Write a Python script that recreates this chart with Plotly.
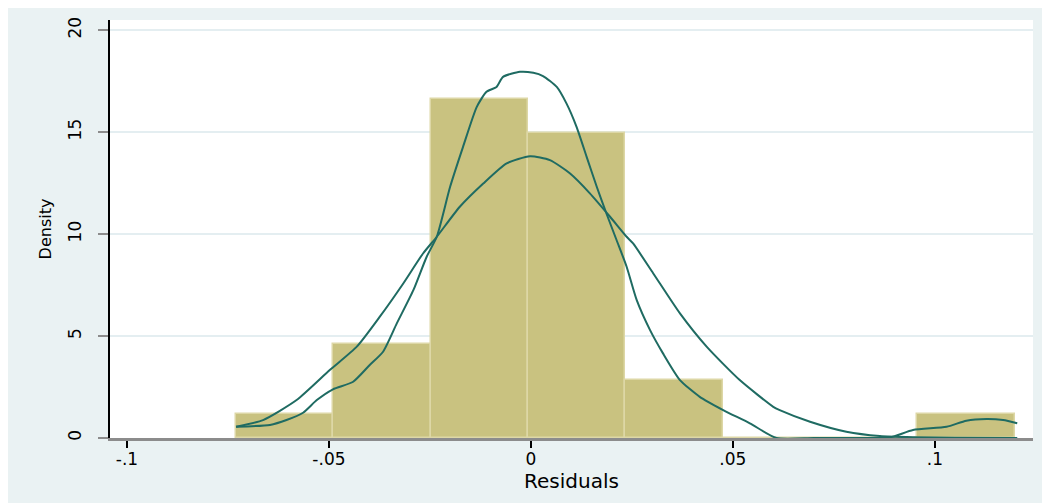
import plotly.graph_objects as go

# ---- data ----
bin_edges = [-0.0730, -0.0489, -0.0248, -0.0007, 0.0234, 0.0475, 0.0716, 0.0957, 0.1198]
bin_density = [1.16, 4.60, 16.65, 14.95, 2.85, 0.0, 0.0, 1.16]

kernel_x = [-0.0730, -0.0646, -0.0605, -0.0564, -0.0530, -0.0490, -0.0440, -0.0399, -0.0366,
            -0.0332, -0.0291, -0.0258, -0.0233, -0.0200, -0.0168, -0.0134, -0.0110, -0.0085,
            -0.0069, -0.0027, 0.0006, 0.0030, 0.0064, 0.0088, 0.0113, 0.0138, 0.0163, 0.0187,
            0.0212, 0.0237, 0.0262, 0.0295, 0.0327, 0.0369, 0.0418, 0.0476, 0.0542, 0.0608,
            0.0700, 0.0800, 0.0889, 0.0946, 0.1029, 0.1078, 0.1128, 0.1169, 0.1204]
kernel_y = [0.55, 0.64, 0.88, 1.24, 1.86, 2.39, 2.76, 3.58, 4.23,
            5.62, 7.25, 8.89, 9.87, 12.32, 14.28, 16.24, 16.98, 17.22,
            17.71, 17.96, 17.91, 17.75, 17.22, 16.41, 15.26, 13.79, 12.32, 11.01,
            9.71, 8.40, 6.76, 5.29, 4.15, 2.84, 2.02, 1.37, 0.72, 0.0,
            0.0, 0.0, 0.03, 0.39, 0.55, 0.85, 0.93, 0.88, 0.72]

normal_x = [-0.0730, -0.0663, -0.0580, -0.0498, -0.0431, -0.0374, -0.0316, -0.0267, -0.0233,
            -0.0176, -0.0118, -0.0060, -0.0002, 0.0047, 0.0097, 0.0146, 0.0196, 0.0237,
            0.0253, 0.0303, 0.0369, 0.0435, 0.0517, 0.0600, 0.0616, 0.0691, 0.0781, 0.0864,
            0.0950, 0.1050, 0.1204]
normal_y = [0.55, 0.88, 1.86, 3.33, 4.48, 5.95, 7.58, 9.05, 9.87,
            11.34, 12.48, 13.47, 13.82, 13.63, 12.97, 12.00, 10.85, 9.87,
            9.54, 8.07, 6.11, 4.48, 2.84, 1.53, 1.37, 0.80, 0.31, 0.10,
            0.04, 0.01, 0.00]

x_tickvals = [-0.1, -0.05, 0, 0.05, 0.1]
x_ticktext = ["-.1", "-.05", "0", ".05", ".1"]
y_tickvals = [0, 5, 10, 15, 20]
y_ticktext = ["0", "5", "10", "15", "20"]

# ---- styles ----
BG = "#eaf2f3"
BAR = "#c9c280"
BAR_EDGE = "#ddd7a6"
LINE = "#1f6b62"
FONT = "DejaVu Sans, Arial, sans-serif"

bin_centers = [(a + b) / 2 for a, b in zip(bin_edges[:-1], bin_edges[1:])]
bin_widths = [b - a for a, b in zip(bin_edges[:-1], bin_edges[1:])]

fig = go.Figure()
fig.add_trace(go.Bar(
    x=bin_centers, y=bin_density, width=bin_widths,
    marker=dict(color=BAR, line=dict(color=BAR_EDGE, width=1.5)),
    showlegend=False, hoverinfo="skip",
))
fig.add_trace(go.Scatter(
    x=kernel_x, y=kernel_y, mode="lines",
    line=dict(color=LINE, width=2, shape="spline", smoothing=0.6),
    showlegend=False,
))
fig.add_trace(go.Scatter(
    x=normal_x, y=normal_y, mode="lines",
    line=dict(color=LINE, width=2, shape="spline", smoothing=0.6),
    showlegend=False,
))

# page body has an 8px margin, so the figure is sized/positioned to compensate
fig.update_layout(
    width=1042, height=495,
    margin=dict(l=102, r=17, t=12, b=65, autoexpand=False),
    paper_bgcolor=BG,
    plot_bgcolor="white",
    font=dict(family=FONT, size=17, color="black"),
    bargap=0,
    xaxis=dict(
        range=[-0.1042, 0.1243],
        tickvals=x_tickvals, ticktext=x_ticktext,
        ticks="outside", ticklen=7, tickwidth=1.5, tickcolor="black",
        showline=True, linecolor="#8c8c8c", linewidth=3,
        showgrid=False, zeroline=False,
        ticklabelstandoff=-3,
        title=dict(text="Residuals", standoff=0, font=dict(size=20)),
        tickfont=dict(size=17),
    ),
    yaxis=dict(
        range=[0, 20.5],
        tickvals=y_tickvals, ticktext=y_ticktext,
        tickangle=-90,
        ticks="outside", ticklen=10, tickwidth=2, tickcolor="#8c8c8c",
        showline=True, linecolor="black", linewidth=1.5,
        showgrid=True, gridcolor="#e4eef1", gridwidth=2,
        zeroline=False,
        ticklabelstandoff=10,
        title=dict(text="Density", standoff=10, font=dict(size=16)),
        tickfont=dict(size=17),
    ),
)

fig.write_html("out.html")
